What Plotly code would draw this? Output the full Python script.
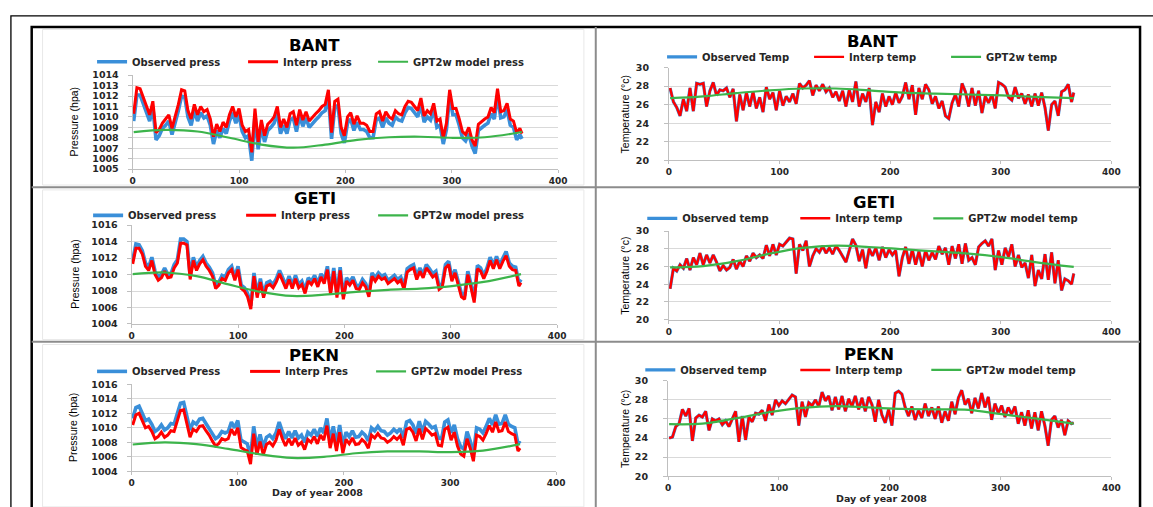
import plotly.graph_objects as go

# ---------------- data ----------------
DAYS = list(range(1, 367, 3)) + [366]
MODEL_DAYS = [1, 31, 61, 91, 121, 151, 181, 211, 241, 271, 301, 331, 366]

bant_p_obs = [
    1009.6, 1012.1, 1012.1, 1011.2, 1010.4, 1009.6, 1010.9, 1007.8, 1008.2, 1008.9,
    1009.2, 1009.6, 1008.3, 1009.4, 1010.6, 1012.0, 1011.9, 1010.0, 1009.2, 1010.6,
    1009.6, 1010.4, 1009.9, 1010.1, 1009.2, 1007.4, 1008.7, 1008.0, 1008.9, 1008.4,
    1009.6, 1010.4, 1009.4, 1010.2, 1008.6, 1008.0, 1008.2, 1005.8, 1010.2, 1006.9,
    1009.1, 1007.6, 1008.7, 1009.0, 1009.4, 1010.4, 1008.4, 1009.2, 1008.4, 1009.7,
    1009.9, 1008.6, 1010.1, 1009.1, 1009.9, 1009.0, 1009.4, 1009.7, 1010.0, 1010.4,
    1010.6, 1012.0, 1007.9, 1010.9, 1011.1, 1008.4, 1007.5, 1009.4, 1009.8, 1008.7,
    1009.5, 1008.8, 1008.8, 1008.6, 1008.0, 1008.0, 1009.7, 1009.9, 1009.0, 1009.9,
    1009.4, 1009.2, 1010.0, 1009.7, 1009.6, 1010.4, 1010.9, 1010.8, 1010.4, 1010.0,
    1011.2, 1009.5, 1010.0, 1009.7, 1010.7, 1009.0, 1009.2, 1007.4, 1008.8, 1012.0,
    1010.2, 1010.2, 1009.2, 1008.0, 1007.7, 1008.4, 1007.2, 1006.5, 1008.7, 1009.0,
    1009.2, 1009.4, 1010.3, 1009.8, 1012.1, 1009.9, 1010.0, 1010.7, 1009.2, 1009.0,
    1007.8, 1008.3, 1007.9]
bant_p_interp = [
    1010.3, 1012.8, 1012.7, 1011.8, 1011.0, 1010.2, 1011.5, 1008.5, 1008.8, 1009.4,
    1009.8, 1010.2, 1008.9, 1010.0, 1011.2, 1012.6, 1012.5, 1010.6, 1009.8, 1011.2,
    1010.2, 1011.0, 1010.5, 1010.7, 1009.8, 1008.1, 1009.3, 1008.6, 1009.5, 1009.0,
    1010.2, 1011.0, 1010.0, 1010.8, 1009.2, 1008.6, 1008.8, 1006.6, 1010.8, 1007.6,
    1009.7, 1008.2, 1009.3, 1009.6, 1010.0, 1011.0, 1009.0, 1009.8, 1009.0, 1010.3,
    1010.5, 1009.2, 1010.7, 1009.7, 1010.5, 1009.6, 1010.0, 1010.3, 1010.6, 1011.0,
    1011.2, 1012.6, 1008.5, 1011.5, 1011.7, 1009.0, 1008.2, 1010.0, 1010.4, 1009.3,
    1010.1, 1009.4, 1009.4, 1009.2, 1008.6, 1008.6, 1010.3, 1010.5, 1009.6, 1010.5,
    1010.0, 1009.8, 1010.6, 1010.3, 1010.2, 1011.0, 1011.5, 1011.4, 1011.0, 1010.6,
    1011.8, 1010.1, 1010.6, 1010.3, 1011.3, 1009.6, 1009.8, 1008.0, 1009.4, 1012.6,
    1010.8, 1010.8, 1009.8, 1008.6, 1008.3, 1009.0, 1007.8, 1007.2, 1009.3, 1009.6,
    1009.8, 1010.0, 1010.9, 1010.4, 1012.7, 1010.5, 1010.6, 1011.3, 1009.8, 1009.6,
    1008.5, 1008.9, 1008.4]
bant_p_model = [1008.55, 1008.75, 1008.6, 1008.0, 1007.35, 1007.05, 1007.35,
                1007.8, 1008.05, 1008.1, 1008.0, 1008.05, 1008.55]

geti_p_obs = [
    1011.7, 1013.7, 1013.6, 1012.9, 1011.4, 1010.9, 1012.1, 1010.4, 1009.7, 1010.0,
    1010.8, 1010.0, 1010.1, 1011.2, 1011.8, 1014.3, 1014.3, 1014.0, 1009.8, 1012.1,
    1010.9, 1011.7, 1012.2, 1011.4, 1010.9, 1010.2, 1008.7, 1009.1, 1009.9, 1009.7,
    1010.6, 1011.0, 1009.7, 1011.0, 1008.7, 1008.4, 1007.7, 1006.2, 1010.2, 1007.6,
    1009.5, 1007.6, 1009.0, 1009.2, 1008.8, 1009.5, 1010.5, 1009.6, 1008.7, 1009.8,
    1008.7, 1009.9, 1008.8, 1009.2, 1008.1, 1009.6, 1009.2, 1009.9, 1008.9, 1010.1,
    1009.3, 1011.0, 1008.0, 1010.8, 1007.6, 1010.9, 1007.4, 1009.6, 1009.1, 1009.7,
    1008.7, 1008.6, 1009.4, 1008.9, 1007.7, 1010.2, 1009.6, 1010.2, 1009.8, 1010.0,
    1009.3, 1009.6, 1009.9, 1009.4, 1009.7, 1008.6, 1010.7, 1011.0, 1011.2, 1009.8,
    1010.8, 1010.0, 1011.2, 1010.7, 1010.1, 1010.4, 1008.6, 1008.9, 1011.2, 1011.6,
    1009.6, 1010.6, 1009.0, 1007.7, 1007.4, 1010.4, 1008.8, 1007.0, 1011.1, 1010.8,
    1009.9, 1010.8, 1012.1, 1011.1, 1012.2, 1011.1, 1012.0, 1012.8, 1011.4, 1011.0,
    1010.9, 1009.0, 1009.4]
geti_p_interp = [
    1011.3, 1013.2, 1013.2, 1012.5, 1011.0, 1010.5, 1011.7, 1010.0, 1009.3, 1009.6,
    1010.4, 1009.6, 1009.7, 1010.8, 1011.4, 1013.8, 1013.8, 1013.6, 1009.4, 1011.7,
    1010.5, 1011.3, 1011.8, 1011.0, 1010.5, 1009.8, 1008.3, 1008.7, 1009.5, 1009.3,
    1010.2, 1010.6, 1009.3, 1010.6, 1008.3, 1008.0, 1007.3, 1005.8, 1009.8, 1007.2,
    1009.1, 1007.2, 1008.6, 1008.8, 1008.4, 1009.1, 1010.1, 1009.2, 1008.3, 1009.4,
    1008.3, 1009.5, 1008.4, 1008.8, 1007.7, 1009.2, 1008.8, 1009.5, 1008.5, 1009.7,
    1008.9, 1010.6, 1007.6, 1010.4, 1007.2, 1010.5, 1007.0, 1009.2, 1008.7, 1009.3,
    1008.3, 1008.2, 1009.0, 1008.5, 1007.3, 1009.8, 1009.2, 1009.8, 1009.4, 1009.6,
    1008.9, 1009.2, 1009.5, 1009.0, 1009.3, 1008.2, 1010.3, 1010.6, 1010.8, 1009.4,
    1010.4, 1009.6, 1010.8, 1010.3, 1009.7, 1010.0, 1008.2, 1008.5, 1010.8, 1011.2,
    1009.2, 1010.2, 1008.6, 1007.3, 1007.0, 1010.0, 1008.4, 1006.6, 1010.7, 1010.4,
    1009.5, 1010.4, 1011.7, 1010.7, 1011.8, 1010.7, 1011.6, 1012.3, 1011.0, 1010.6,
    1010.5, 1008.6, 1009.0]
geti_p_model = [1010.05, 1010.25, 1009.8, 1008.8, 1007.9, 1007.4, 1007.55,
                1007.9, 1008.15, 1008.3, 1008.6, 1009.1, 1010.05]

pekn_p_obs = [
    1011.3, 1012.8, 1013.0, 1012.0, 1011.0, 1011.2, 1010.5, 1009.5, 1009.8, 1010.4,
    1009.7, 1010.0, 1010.6, 1010.5, 1012.0, 1013.4, 1013.5, 1011.8, 1009.7, 1010.8,
    1010.5, 1011.2, 1011.3, 1010.6, 1010.0, 1009.2, 1008.5, 1008.8, 1009.5, 1009.3,
    1009.5, 1010.8, 1010.0, 1011.0, 1008.3, 1008.0, 1007.8, 1006.0, 1010.2, 1007.3,
    1009.1, 1007.3, 1008.7, 1009.0, 1008.5, 1009.3, 1010.8, 1009.5, 1008.5, 1009.5,
    1008.6, 1009.6, 1008.6, 1009.0, 1008.0, 1009.4, 1009.0, 1009.8, 1008.8, 1010.0,
    1009.3, 1011.3, 1008.2, 1010.2, 1007.8, 1010.4, 1007.5, 1009.4, 1008.8, 1009.6,
    1008.7, 1008.8, 1009.4, 1009.0, 1008.2, 1010.0, 1009.6, 1010.2, 1009.6, 1009.5,
    1009.0, 1009.3, 1009.8, 1009.4, 1009.9, 1008.6, 1010.8, 1011.0, 1010.4, 1009.2,
    1010.9, 1009.4, 1010.9, 1010.5, 1010.0, 1010.2, 1008.6, 1008.5, 1010.8, 1011.1,
    1009.3, 1010.4, 1008.5, 1007.4, 1007.1, 1009.5, 1008.2, 1006.4, 1010.0, 1009.8,
    1009.3, 1010.2, 1011.3, 1010.4, 1011.8, 1010.5, 1010.6, 1011.8, 1010.5, 1010.2,
    1010.0, 1007.8, 1008.2]
pekn_p_interp = [
    1010.4, 1011.8, 1012.0, 1011.0, 1010.0, 1010.2, 1009.5, 1008.5, 1008.8, 1009.4,
    1008.7, 1009.0, 1009.6, 1009.5, 1011.0, 1012.4, 1012.5, 1010.8, 1008.7, 1009.8,
    1009.5, 1010.2, 1010.3, 1009.6, 1009.0, 1008.2, 1007.5, 1007.8, 1008.5, 1008.3,
    1008.5, 1009.8, 1009.0, 1010.0, 1007.3, 1007.0, 1006.8, 1005.0, 1009.2, 1006.3,
    1008.1, 1006.3, 1007.7, 1008.0, 1007.5, 1008.3, 1009.8, 1008.5, 1007.5, 1008.5,
    1007.6, 1008.6, 1007.6, 1008.0, 1007.0, 1008.4, 1008.0, 1008.8, 1007.8, 1009.0,
    1008.3, 1010.3, 1007.2, 1009.2, 1006.8, 1009.4, 1006.5, 1008.4, 1007.8, 1008.6,
    1007.7, 1007.8, 1008.4, 1008.0, 1007.2, 1009.0, 1008.6, 1009.2, 1008.6, 1008.5,
    1008.0, 1008.3, 1008.8, 1008.4, 1008.9, 1007.6, 1009.8, 1010.0, 1009.4, 1008.2,
    1009.9, 1008.4, 1009.9, 1009.5, 1009.0, 1009.2, 1007.6, 1007.5, 1009.8, 1010.1,
    1008.3, 1009.4, 1007.5, 1006.4, 1006.1, 1008.5, 1007.2, 1005.4, 1009.0, 1008.8,
    1008.3, 1009.2, 1010.3, 1009.4, 1010.8, 1009.5, 1009.6, 1010.8, 1009.5, 1009.2,
    1009.0, 1006.8, 1007.2]
pekn_p_model = [1007.7, 1008.0, 1007.75, 1007.1, 1006.35, 1005.85, 1006.0,
                1006.5, 1006.75, 1006.75, 1006.65, 1006.85, 1007.75]

bant_t_obs = [
    27.8, 26.3, 25.7, 24.8, 26.6, 25.3, 27.8, 25.3, 28.3, 28.2,
    28.3, 25.8, 27.5, 28.4, 27.0, 27.6, 27.5, 27.8, 26.8, 27.7,
    24.2, 27.1, 25.4, 27.3, 25.8, 27.4, 25.6, 26.8, 25.2, 27.9,
    26.6, 27.3, 25.4, 27.5, 25.9, 26.9, 26.3, 27.2, 26.1, 28.3,
    27.8, 28.1, 28.6, 27.0, 28.1, 27.5, 28.2, 27.4, 27.8, 26.8,
    27.4, 26.4, 27.5, 25.8, 27.6, 26.3, 28.5, 25.8, 27.2, 26.3,
    27.8, 23.8, 26.3, 25.2, 27.2, 25.8, 26.9, 26.0, 27.3, 26.2,
    26.9, 28.4, 26.6, 28.1, 24.9, 27.8, 26.6, 28.2, 27.6, 26.1,
    26.9, 25.6, 26.4, 24.8, 24.5, 26.2, 27.1, 25.8, 28.3, 27.4,
    25.8, 27.8, 25.9, 27.5, 25.1, 26.9, 26.2, 27.1, 25.6, 28.4,
    28.2, 27.9, 26.8, 26.5, 27.9, 26.7, 27.2, 26.1, 27.1, 25.8,
    27.2, 25.9, 27.3, 25.7, 23.2, 26.0, 26.4, 24.8, 27.4, 27.6,
    28.2, 26.3, 27.3]
bant_t_interp = list(bant_t_obs)   # the two curves coincide in the picture
bant_t_model = [26.7, 26.9, 27.25, 27.55, 27.75, 27.75, 27.55,
                27.3, 27.2, 27.1, 27.0, 26.85, 26.7]

geti_t_obs = [
    23.5, 25.8, 25.5, 26.2, 25.8, 26.9, 25.6, 27.0, 26.2, 27.5,
    26.2, 27.3, 26.4, 27.3, 26.5, 25.5, 26.1, 25.6, 25.9, 26.8,
    25.7, 26.6, 26.0, 27.2, 26.6, 27.5, 27.0, 27.3, 26.9, 28.4,
    27.2, 28.5, 27.3, 28.5, 28.3, 28.8, 29.2, 29.1, 25.2, 28.5,
    27.8, 28.9, 26.0, 27.2, 28.0, 27.6, 28.3, 27.5, 28.1, 27.4,
    28.3, 27.8, 27.2, 26.5, 27.8, 29.1, 28.4, 26.6, 27.9, 25.8,
    28.0, 27.2, 28.1, 26.7, 28.2, 27.0, 27.9, 27.3, 27.8, 24.9,
    27.0, 28.2, 26.3, 27.9, 26.2, 27.7, 26.0, 27.8, 26.7, 27.6,
    26.8, 28.3, 27.4, 28.1, 26.2, 28.3, 26.9, 28.5, 26.3, 28.6,
    26.7, 27.0, 26.2, 28.2, 28.6, 28.9, 28.3, 29.1, 25.6, 27.8,
    26.2, 28.1, 27.1, 28.5, 26.0, 27.3, 25.9, 26.4, 24.7, 27.3,
    23.8, 25.6, 24.6, 27.4, 24.5, 27.6, 24.1, 26.7, 23.3, 24.6,
    24.4, 24.0, 25.2]
geti_t_interp = list(geti_t_obs)
geti_t_model = [25.9, 26.05, 26.6, 27.45, 28.1, 28.35, 28.2,
                27.95, 27.7, 27.45, 27.05, 26.5, 25.95]

pekn_t_obs = [
    24.0, 24.1, 25.2, 25.5, 27.0, 26.3, 27.1, 23.7, 26.1, 26.4,
    26.2, 26.8, 24.8, 26.0, 25.8, 26.0, 25.4, 25.8, 25.2, 26.1,
    26.8, 23.6, 26.3, 23.8, 26.2, 25.7, 26.6, 26.5, 26.9, 25.8,
    27.5, 26.4, 28.0, 27.4, 27.9, 27.6, 28.1, 28.5, 28.3, 25.3,
    27.8, 26.2, 27.7, 27.4, 28.0, 27.3, 28.8, 27.9, 28.4, 26.9,
    28.3, 27.0, 28.4, 26.8, 28.1, 27.3, 28.4, 27.0, 28.2, 26.8,
    28.3, 27.5, 25.7, 28.0, 26.4, 25.6, 27.0, 25.3, 28.7, 28.9,
    28.6, 27.2, 26.3, 27.3, 25.9, 26.9, 26.1, 27.6, 26.3, 27.2,
    26.0, 27.3, 25.6, 26.8, 25.8, 27.8, 26.5, 28.2, 29.0, 27.5,
    28.1, 26.6, 28.2, 27.1, 28.7, 27.2, 28.3, 25.9, 27.6, 26.6,
    27.4, 26.2, 27.2, 26.5, 27.3, 25.5, 26.7, 25.3, 26.9, 25.0,
    26.7, 24.8, 26.8, 25.3, 23.2, 25.9, 26.3, 25.1, 25.9, 24.3,
    25.8, 25.5, 25.6]
pekn_t_interp = list(pekn_t_obs)
pekn_t_model = [25.45, 25.5, 26.05, 26.7, 27.15, 27.33, 27.2,
                27.05, 27.0, 26.95, 26.5, 26.05, 25.5]

P_TICKS_BANT = [1005, 1006, 1007, 1008, 1009, 1010, 1011, 1012, 1013, 1014]
P_TICKS = [1004, 1006, 1008, 1010, 1012, 1014, 1016]
T_TICKS = [20, 22, 24, 26, 28, 30]
X_TICKS = [0, 100, 200, 300, 400]

# ---------------- styling / layout ----------------
W, H = 1153, 507
def fx(px): return px / W
def fy(py): return 1 - py / H

BLUE = "#3a8fd9"
RED = "#ff0000"
GREEN = "#3cb44b"
GRID = "#d9d9d9"
AXIS = "#bfbfbf"
TXT = "#262626"
BOLD = "DejaVu Sans"

panels = [
    dict(title="BANT", obs=bant_p_obs, interp=bant_p_interp, model=bant_p_model,
         names=["Observed press", "Interp press", "GPT2w model press"],
         ticks=P_TICKS_BANT, xd=(131, 561), yd=(70.7, 166.7), tpos=(315, 40),
         leg=(98, 57), lw=(106, 85), ytitle="Pressure (hpa)", ytx=72, press=True),
    dict(title="BANT", obs=bant_t_obs, interp=bant_t_interp, model=bant_t_model,
         names=["Observed Temp", "Interp temp", "GPT2w temp"],
         ticks=T_TICKS, xd=(673, 1120), yd=(63, 157.7), tpos=(879, 36),
         leg=(674, 52), lw=(102, 92), ytitle="Temperature (°c)", ytx=629, press=False),
    dict(title="GETI", obs=geti_p_obs, interp=geti_p_interp, model=geti_p_model,
         names=["Observed press", "Interp press", "GPT2w model press"],
         ticks=P_TICKS, xd=(130, 560), yd=(224, 325), tpos=(315, 197),
         leg=(94, 214), lw=(108, 87), ytitle="Pressure (hpa)", ytx=72, press=True),
    dict(title="GETI", obs=geti_t_obs, interp=geti_t_interp, model=geti_t_model,
         names=["Observed temp", "Interp temp", "GPT2w model temp"],
         ticks=T_TICKS, xd=(673, 1120), yd=(230, 320.7), tpos=(880, 201),
         leg=(654, 217), lw=(108, 88), ytitle="Temperature (°c)", ytx=629, press=False),
    dict(title="PEKN", obs=pekn_p_obs, interp=pekn_p_interp, model=pekn_p_model,
         names=["Observed Press", "Interp Pres", "GPT2w model Press"],
         ticks=P_TICKS, xd=(130, 559), yd=(386.7, 475.7), tpos=(314, 357),
         leg=(98, 373.5), lw=(108, 81), ytitle="Pressure (hpa)", ytx=71, press=True),
    dict(title="PEKN", obs=pekn_t_obs, interp=pekn_t_interp, model=pekn_t_model,
         names=["Observed temp", "Interp temp", "GPT2w model temp"],
         ticks=T_TICKS, xd=(672, 1120), yd=(383, 480.7), tpos=(875, 356),
         leg=(652, 372), lw=(110, 86), ytitle="Temperature (°c)", ytx=629, press=False),
]

fig = go.Figure()
layout = dict(
    width=W, height=H, autosize=False,
    margin=dict(l=0, r=0, t=0, b=0, pad=0),
    paper_bgcolor="white", plot_bgcolor="white",
    showlegend=True, annotations=[], shapes=[],
)

for i, p in enumerate(panels, start=1):
    sfx = "" if i == 1 else str(i)
    legname = "legend" + sfx
    n = len(p["obs"])
    wb, wr = (3.6, 3.0) if p["press"] else (3.2, 2.4)
    fig.add_trace(go.Scatter(x=DAYS[:n], y=p["obs"], mode="lines", name=p["names"][0],
                             line=dict(color=BLUE, width=wb), xaxis="x" + sfx, yaxis="y" + sfx,
                             legend=legname, legendwidth=p["lw"][0], hoverinfo="skip"))
    fig.add_trace(go.Scatter(x=DAYS[:len(p["interp"])], y=p["interp"], mode="lines",
                             name=p["names"][1], line=dict(color=RED, width=wr),
                             xaxis="x" + sfx, yaxis="y" + sfx, legend=legname,
                             legendwidth=p["lw"][1], hoverinfo="skip"))
    fig.add_trace(go.Scatter(x=MODEL_DAYS, y=p["model"], mode="lines", name=p["names"][2],
                             line=dict(color=GREEN, width=2.2, shape="spline", smoothing=1.0),
                             xaxis="x" + sfx, yaxis="y" + sfx, legend=legname,
                             legendwidth=160, hoverinfo="skip"))

    tks = p["ticks"]
    standoff = 7 if p["press"] else 13
    layout["xaxis" + sfx] = dict(
        domain=[fx(p["xd"][0]), fx(p["xd"][1])], anchor="y" + sfx,
        range=[0, 400], tickvals=X_TICKS, showgrid=False, zeroline=False,
        showline=True, linecolor=AXIS, linewidth=1, ticks="outside", ticklen=3,
        tickcolor=AXIS, tickfont=dict(family=BOLD, size=9, color=TXT, weight="bold"),
    )
    layout["yaxis" + sfx] = dict(
        domain=[fy(p["yd"][1]), fy(p["yd"][0])], anchor="x" + sfx,
        range=[tks[0], tks[-1]], tickvals=tks, showgrid=True, gridcolor=GRID, gridwidth=1,
        zeroline=False, showline=True, linecolor=AXIS, linewidth=1, ticks="outside",
        ticklen=4, tickcolor=AXIS, ticklabelstandoff=standoff,
        tickfont=dict(family=BOLD, size=9.5, color=TXT, weight="bold"),
    )
    layout[legname] = dict(
        orientation="h", x=fx(p["leg"][0] - 8), y=fy(p["leg"][1]),
        xanchor="left", yanchor="middle", bgcolor="rgba(0,0,0,0)", borderwidth=0,
        font=dict(family=BOLD, size=10, color=TXT, weight="bold"),
        itemwidth=30, traceorder="normal",
    )
    layout["annotations"].append(dict(
        text=p["title"], x=fx(p["tpos"][0]), y=fy(p["tpos"][1]), xref="paper", yref="paper",
        xanchor="center", yanchor="middle", showarrow=False,
        font=dict(family=BOLD, size=16.5, color="black", weight="bold")))
    layout["annotations"].append(dict(
        text=p["ytitle"], x=fx(p["ytx"]), y=fy((p["yd"][0] + p["yd"][1]) / 2),
        xref="paper", yref="paper", xanchor="center", yanchor="middle", textangle=-90,
        showarrow=False, font=dict(family="Liberation Sans Narrow, Liberation Sans", size=10.5, color="black")))

# x-axis titles on bottom row
layout["annotations"].append(dict(
    text="Day of year 2008", x=fx(318), y=fy(497.5), xref="paper", yref="paper",
    xanchor="center", yanchor="middle", showarrow=False,
    font=dict(family=BOLD, size=9.5, color=TXT, weight="bold")))
layout["annotations"].append(dict(
    text="Day of year 2008", x=fx(888), y=fy(503), xref="paper", yref="paper",
    xanchor="center", yanchor="middle", showarrow=False,
    font=dict(family=BOLD, size=9.5, color=TXT, weight="bold")))

# frame decoration
def rect(x0, y0, x1, y1, color, w):
    return dict(type="rect", xref="paper", yref="paper", x0=fx(x0), y0=fy(y0),
                x1=fx(x1), y1=fy(y1), line=dict(color=color, width=w), fillcolor="rgba(0,0,0,0)",
                layer="below")
def hline(x0, x1, y, color, w):
    return dict(type="line", xref="paper", yref="paper", x0=fx(x0), x1=fx(x1), y0=fy(y), y1=fy(y),
                line=dict(color=color, width=w))
def vline(x, y0, y1, color, w):
    return dict(type="line", xref="paper", yref="paper", x0=fx(x), x1=fx(x), y0=fy(y0), y1=fy(y1),
                line=dict(color=color, width=w))

layout["shapes"] += [
    rect(40, 24, 587, 183, "#e8e8e8", 1),
    rect(40, 188, 587, 341, "#e8e8e8", 1),
    rect(40, 346, 587, 512, "#e8e8e8", 1),
    rect(8, 10, 1170, 530, "black", 1.3),
    rect(29, 21.5, 1149, 530, "black", 2.5),
    vline(599, 21.5, 530, "#8c8c8c", 2),
    hline(29, 1149, 185.3, "#8c8c8c", 2),
    hline(29, 1149, 343.3, "#8c8c8c", 2),
]

fig.update_layout(**layout)
fig.write_html(
    "out.html",
    config={"displayModeBar": False},
    post_script="document.body.style.margin='0';document.body.style.overflow='hidden';",
)
